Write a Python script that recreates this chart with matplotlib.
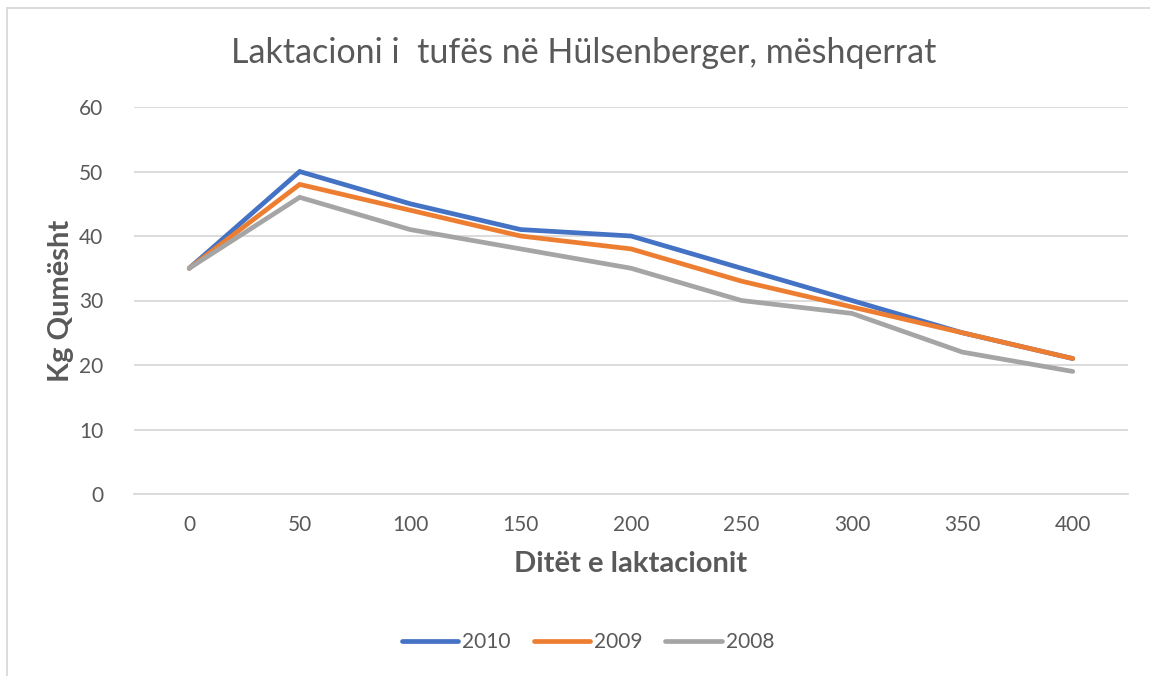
import matplotlib
matplotlib.use("Agg")
import matplotlib.pyplot as plt
from matplotlib.lines import Line2D

days = [0, 50, 100, 150, 200, 250, 300, 350, 400]
y2010 = [35, 50, 45, 41, 40, 35, 30, 25, 21]
y2009 = [35, 48, 44, 40, 38, 33, 29, 25, 21]
y2008 = [35, 46, 41, 38, 35, 30, 28, 22, 19]

series = [("2010", y2010, "#4472C4"),
          ("2009", y2009, "#ED7D31"),
          ("2008", y2008, "#A5A5A5")]

plt.rcParams['font.family'] = ['Lato', 'DejaVu Sans']
txt = "#595959"
grid = "#d9d9d9"

fig = plt.figure(figsize=(11.5, 6.76), dpi=100)
ax = fig.add_axes([134 / 1150, 1 - 494 / 676, 994 / 1150, 387 / 676])

x = list(range(len(days)))
for name, vals, col in series:
    ax.plot(x, vals, color=col, lw=3.4, label=name,
            solid_capstyle='round', solid_joinstyle='miter')

ax.set_xlim(-0.5, len(days) - 0.5)
ax.set_ylim(0, 60)
ax.set_yticks(range(0, 61, 10))
ax.set_xticks(x)
ax.set_xticklabels([str(d) for d in days])
ax.yaxis.grid(True, color=grid, lw=1.3)
ax.set_axisbelow(True)
for s in ["top", "right", "left"]:
    ax.spines[s].set_visible(False)
ax.spines["bottom"].set_color(grid)
ax.spines["bottom"].set_linewidth(1.3)
ax.tick_params(length=0, labelsize=15, labelcolor=txt)
ax.tick_params(axis='y', pad=22)
ax.tick_params(axis='x', pad=15)

ax.set_xlabel("Ditët e laktacionit", fontsize=21, fontweight='bold',
              color=txt, labelpad=12)
ax.set_ylabel("Kg Qumësht", fontsize=21, fontweight='bold', color=txt)
ax.yaxis.set_label_coords(-(134 - 61) / 994, 0.5)
ax.yaxis.label.set_va('center')

fig.text(584 / 1150, 1 - 53 / 676, "Laktacioni i  tufës në Hülsenberger, mëshqerrat",
         ha='center', va='center', fontsize=24.5, color=txt)

fig.legend(loc='center', bbox_to_anchor=(588 / 1150, 1 - 642 / 676), ncol=3,
           frameon=False, fontsize=15, labelcolor=txt, handlelength=2.7,
           handletextpad=0.2, columnspacing=1.1)

fig.add_artist(Line2D([6.5 / 1150, 6.5 / 1150], [0, 1 - 7.5 / 676],
                      transform=fig.transFigure, color=grid, lw=1.3))
fig.add_artist(Line2D([6.5 / 1150, 1], [1 - 7.5 / 676, 1 - 7.5 / 676],
                      transform=fig.transFigure, color=grid, lw=1.3))

fig.savefig("out.png", dpi=100)
